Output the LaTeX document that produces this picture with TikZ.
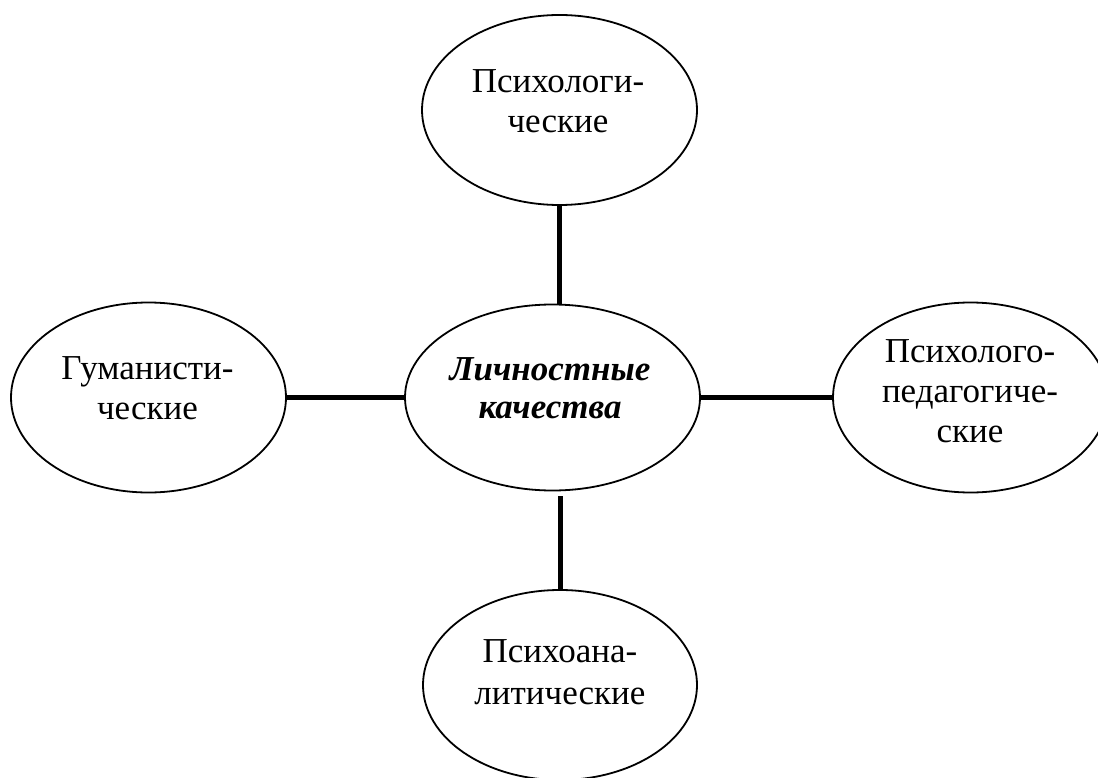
\documentclass[tikz,border=0pt]{standalone}
\usepackage{fontspec}
\setmainfont{Liberation Serif}
\usetikzlibrary{shapes.geometric}
\tikzset{
  oval/.style={draw=black, line width=1.8pt, ellipse, inner sep=0pt, minimum width=275pt, minimum height=190pt},
  lbl/.style={align=center, inner sep=0pt, font=\fontsize{35}{40}\selectfont},
  link/.style={line width=5pt, line cap=butt}
}
\begin{document}
\begin{tikzpicture}[x=1pt, y=-1pt]
\useasboundingbox (0,0) rectangle (1098,778);
\fill[white] (0,0) rectangle (1098,778);
% ellipses
\node[oval] (top) at (559.5,110) {};
\node[oval, minimum width=295pt, minimum height=186pt] (mid) at (552.5,397.5) {};
\node[oval] (left) at (148.5,397.5) {};
\node[oval] (right) at (970.5,397.5) {};
\node[oval, minimum width=274pt] (bot) at (560,685) {};
% labels
\node[lbl] (ttop) at (558,101.5) {Психологи-\\ческие};
\node[lbl, font=\fontsize{35}{38}\selectfont\bfseries\itshape] (tmid) at (550,388) {Личностные\\качества};
\node[lbl] (tleft) at (147.5,388.5) {Гуманисти-\\ческие};
\node[lbl] (tright) at (970,391) {Психолого-\\педагогиче-\\ские};
\node[lbl, font=\fontsize{35}{42}\selectfont] (tbot) at (560,672.5) {Психоана-\\литические};
% connectors
\draw[link] (top.south) -- (top.south |- mid.north);
\draw[link, shorten >=5pt] (bot.north) -- (bot.north |- mid.south);
\draw[link] (left.east) -- (left.east -| mid.west);
\draw[link] (mid.east) -- (mid.east -| right.west);
\end{tikzpicture}
\end{document}
